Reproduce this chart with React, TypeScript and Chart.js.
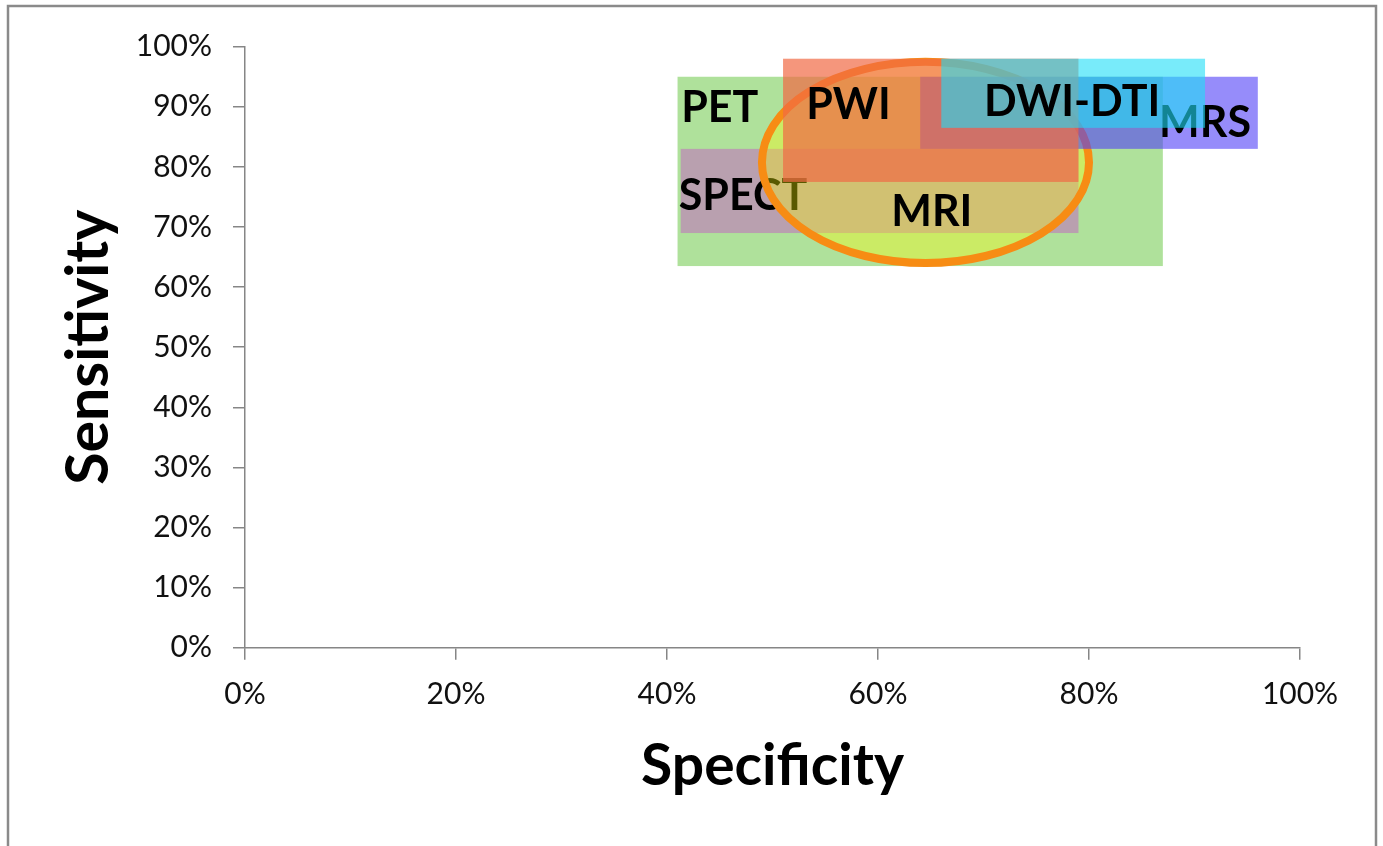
import { useEffect, useRef } from "react";
import { Chart, registerables } from "chart.js";

Chart.register(...registerables);

// Reported ranges (percent) for each imaging modality
const modalities = ["PET", "SPECT", "PWI", "MRS", "DWI-DTI"];
const specificityLow = [41, 41.3, 51, 64, 66];
const specificityHigh = [87, 79, 79, 96, 91];
const sensitivityLow = [63.5, 69, 77.5, 83, 86.5];
const sensitivityHigh = [95, 83, 98, 95, 98];

// MRI is drawn as an ellipse inscribed in its range box
const mriName = "MRI";
const mriSpecificity = [49, 80];
const mriSensitivity = [64, 97.5];

const xTickValues = [0, 20, 40, 60, 80, 100];
const yTickValues = [0, 10, 20, 30, 40, 50, 60, 70, 80, 90, 100];

// ---- styling ----
const W = 1383;
const H = 846;
const FONT = "Lato, 'Open Sans', sans-serif";
const AXIS_GREY = "#868686";

const fills: Record<string, string> = {
  PET: "rgba(122,205,88,0.6)",
  SPECT: "rgba(195,95,195,0.5)",
  PWI: "rgba(241,105,69,0.7)",
  MRS: "rgba(80,63,247,0.6)",
  "DWI-DTI": "rgba(30,222,247,0.6)",
};
const mriFill = "rgba(255,255,0,0.35)";
const mriStroke = "rgb(247,140,20)";

// label anchor (specificity %, sensitivity %) – text centred, alphabetic baseline
const labelAnchors: Record<string, [number, number]> = {
  PET: [45.0, 87.5],
  SPECT: [47.2, 72.8],
  PWI: [57.2, 88.0],
  MRS: [91.0, 85.0],
  "DWI-DTI": [78.4, 88.5],
  MRI: [65.1, 70.1],
};

// bottom-to-top painting order
const layerOrder = ["PET", "SPECT", "MRI", "MRS", "PWI", "DWI-DTI"];

const framePlugin = {
  id: "frame",
  beforeDraw(chart: any) {
    const ctx = chart.ctx;
    ctx.save();
    ctx.fillStyle = "#ffffff";
    ctx.fillRect(0, 0, chart.width, chart.height);
    ctx.strokeStyle = "#8a8a8a";
    ctx.lineWidth = 2.5;
    ctx.strokeRect(8, 6, 1368, 900);
    ctx.restore();
  },
};

const regionsPlugin = {
  id: "regions",
  afterDatasetsDraw(chart: any) {
    const ctx = chart.ctx;
    const xs = chart.scales.x;
    const ys = chart.scales.y;
    const px = (v: number) => xs.getPixelForValue(v);
    const py = (v: number) => ys.getPixelForValue(v);

    const drawLabel = (name: string) => {
      const [ax, ay] = labelAnchors[name];
      ctx.save();
      ctx.font = `bold 43px ${FONT}`;
      ctx.fillStyle = "#000000";
      ctx.textAlign = "center";
      ctx.textBaseline = "alphabetic";
      ctx.fillText(name, px(ax), py(ay));
      ctx.restore();
    };

    layerOrder.forEach((name) => {
      if (name === mriName) {
        const x0 = px(mriSpecificity[0]);
        const x1 = px(mriSpecificity[1]);
        const y0 = py(mriSensitivity[1]);
        const y1 = py(mriSensitivity[0]);
        ctx.save();
        ctx.beginPath();
        ctx.ellipse((x0 + x1) / 2, (y0 + y1) / 2, (x1 - x0) / 2, (y1 - y0) / 2, 0, 0, Math.PI * 2);
        ctx.fillStyle = mriFill;
        ctx.fill();
        ctx.lineWidth = 8;
        ctx.strokeStyle = mriStroke;
        ctx.stroke();
        ctx.restore();
        return;
      }
      const i = modalities.indexOf(name);
      const x0 = px(specificityLow[i]);
      const x1 = px(specificityHigh[i]);
      const y0 = py(sensitivityHigh[i]);
      const y1 = py(sensitivityLow[i]);
      ctx.save();
      ctx.fillStyle = fills[name];
      ctx.fillRect(x0, y0, x1 - x0, y1 - y0);
      ctx.restore();
      drawLabel(name);
    });
    drawLabel(mriName);
  },
};

export default function App() {
  const canvasRef = useRef<HTMLCanvasElement | null>(null);

  useEffect(() => {
    const canvas = canvasRef.current;
    if (!canvas) return;
    const chart = new Chart(canvas, {
      type: "scatter",
      data: { datasets: [] },
      options: {
        responsive: false,
        animation: false,
        devicePixelRatio: 1,
        layout: { padding: { top: 46.7, right: 83, bottom: 0, left: 0 } },
        plugins: { legend: { display: false }, tooltip: { enabled: false } },
        scales: {
          x: {
            type: "linear",
            min: 0,
            max: 100,
            afterBuildTicks: (s: any) => {
              s.ticks = xTickValues.map((v) => ({ value: v }));
            },
            afterFit: (s: any) => {
              s.height = H - 647.7;
            },
            border: { display: true, color: AXIS_GREY, width: 1.5 },
            grid: { drawOnChartArea: false, drawTicks: true, tickLength: 12, color: AXIS_GREY, lineWidth: 1.5 },
            ticks: {
              padding: 17,
              color: "#111111",
              font: { family: FONT, size: 30 },
              callback: (v: any) => `${v}%`,
              maxRotation: 0,
              autoSkip: false,
            },
            title: {
              display: true,
              text: "Specificity",
              color: "#000000",
              font: { family: FONT, size: 57, weight: "bold", lineHeight: 1.2 },
              padding: { top: 0, bottom: 45 },
            },
          },
          y: {
            type: "linear",
            min: 0,
            max: 100,
            afterBuildTicks: (s: any) => {
              s.ticks = yTickValues.map((v) => ({ value: v }));
            },
            afterFit: (s: any) => {
              s.width = 245;
            },
            border: { display: true, color: AXIS_GREY, width: 1.5 },
            grid: { drawOnChartArea: false, drawTicks: true, tickLength: 12, color: AXIS_GREY, lineWidth: 1.5 },
            ticks: {
              padding: 21,
              color: "#111111",
              font: { family: FONT, size: 30 },
              callback: (v: any) => `${v}%`,
              autoSkip: false,
            },
            title: {
              display: true,
              text: "Sensitivity",
              color: "#000000",
              font: { family: FONT, size: 59, weight: "bold", lineHeight: 1.2 },
              padding: { top: 54, bottom: 0 },
            },
          },
        },
      },
      plugins: [framePlugin, regionsPlugin],
    });
    return () => chart.destroy();
  }, []);

  return (
    <canvas
      ref={canvasRef}
      width={W}
      height={H}
      style={{ position: "absolute", left: 0, top: 0, width: W, height: H }}
    />
  );
}
